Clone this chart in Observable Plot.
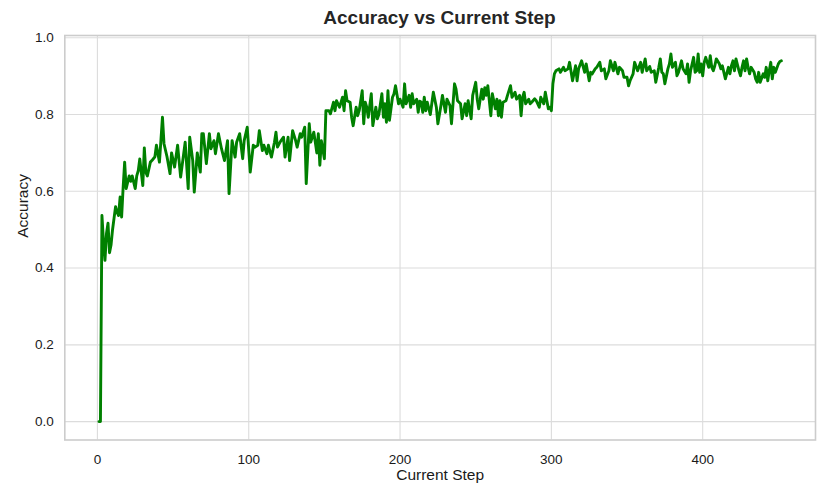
<!DOCTYPE html>
<html>
<head>
<meta charset="utf-8">
<script src="https://cdn.jsdelivr.net/npm/d3@7"></script>
<script src="https://cdn.jsdelivr.net/npm/@observablehq/plot@0.6"></script>
<style>
  html, body { margin: 0; padding: 0; background: #fff; }
  #wrap { width: 830px; height: 498px; position: relative; font-family: "Liberation Sans", Arial, sans-serif; }
  #title { height: 30px; box-sizing: border-box; padding-top: 6px; line-height: 24px; font-size: 19px; font-weight: bold; color: #262626; text-align: center; padding-left: 49px; }
</style>
</head>
<body>
<div id="wrap">
  <div id="title">Accuracy vs Current Step</div>
  <div id="chart"></div>
</div>
<script>
const title = "Accuracy vs Current Step";
const xLabel = "Current Step";
const yLabel = "Accuracy";
const xTicks = [0, 100, 200, 300, 400];
const yTicks = [0, 0.2, 0.4, 0.6, 0.8, 1.0];

const steps = [
  1,2,3,4,5,6,7,8,9,10,11,12,13,14,15,16,17,18,19,21,22,23,25,26,27,28,30,31,32,33,35,36,38,39,41,43,44,46,48,49,
  51,53,55,58,60,61,63,64,66,68,69,70,72,74,75,77,78,80,82,84,86,87,89,91,92,94,96,97,99,101,103,104,106,107,109,110,
  112,113,115,117,118,119,121,123,124,126,127,129,131,132,134,135,137,138,140,141,143,144,145,146,147,148,150,151,153,
  154,156,157,158,160,162,163,164,165,167,168,169,171,172,173,175,176,177,178,179,181,182,184,185,186,188,189,190,191,
  192,193,195,196,197,199,200,202,203,204,206,207,208,209,211,212,213,214,215,216,217,218,220,222,224,225,227,228,230,
  231,233,234,236,237,238,240,241,243,244,245,247,248,250,251,252,254,255,256,257,258,260,261,263,264,265,266,267,268,
  270,271,273,274,276,277,279,280,281,282,283,285,286,287,289,290,292,293,295,296,298,299,300,301,302,303,305,306,308,
  309,311,312,314,316,317,318,320,322,323,325,326,327,329,330,332,333,335,336,338,339,341,342,344,345,347,348,350,351,
  352,354,355,357,359,360,362,363,365,366,368,369,371,372,373,374,375,377,378,379,380,382,383,384,386,387,389,390,391,
  392,394,395,396,397,398,399,400,401,402,404,405,406,407,408,409,411,412,413,414,415,417,418,419,420,421,422,424,425,
  426,427,428,429,430,431,432,434,435,436,437,438,440,441,442,443,444,445,446,447,448,450,451,452
];

const accuracy = [
  0,0,0.537,0.47,0.42,0.49,0.517,0.44,0.46,0.50,0.53,0.56,0.545,0.537,0.585,0.533,0.61,0.676,0.607,0.64,0.626,0.64,0.607,0.64,0.654,0.684,0.615,0.713,0.65,0.64,0.676,0.68,0.69,0.72,0.676,0.793,0.724,0.69,0.646,0.70,
  0.663,0.72,0.637,0.728,0.607,0.741,0.68,0.598,0.70,0.65,0.75,0.75,0.672,0.75,0.711,0.732,0.698,0.75,0.711,0.68,0.732,0.594,0.732,0.689,0.728,0.75,0.685,0.732,0.767,0.65,0.72,0.715,0.72,0.758,0.706,0.72,
  0.698,0.72,0.689,0.728,0.754,0.715,0.73,0.741,0.689,0.741,0.68,0.758,0.732,0.715,0.75,0.741,0.767,0.62,0.776,0.728,0.754,0.728,0.70,0.75,0.668,0.732,0.685,0.81,0.81,
  0.802,0.832,0.81,0.836,0.819,0.845,0.81,0.862,0.836,0.832,0.793,0.771,0.819,0.797,0.81,0.862,0.776,0.832,0.819,0.793,0.854,0.771,0.819,0.789,0.80,0.854,0.793,0.828,0.78,
  0.862,0.785,0.845,0.854,0.875,0.828,0.84,0.819,0.88,0.828,0.85,0.819,0.854,0.828,0.84,0.806,0.835,0.832,0.806,0.845,0.81,0.832,0.80,0.858,0.819,0.776,0.823,0.85,0.806,
  0.84,0.823,0.776,0.88,0.866,0.836,0.828,0.789,0.828,0.797,0.836,0.789,0.85,0.884,0.84,0.815,0.866,0.84,0.87,0.85,0.875,0.797,0.854,0.815,0.84,0.797,0.836,0.793,0.832,
  0.836,0.85,0.875,0.845,0.858,0.84,0.85,0.797,0.845,0.858,0.828,0.84,0.828,0.832,0.841,0.836,0.819,0.845,0.828,0.858,0.815,0.819,0.81,0.88,0.906,0.914,0.919,0.91,0.923,
  0.914,0.919,0.936,0.888,0.927,0.888,0.919,0.94,0.91,0.932,0.888,0.91,0.906,0.919,0.923,0.936,0.914,0.919,0.893,0.914,0.94,0.914,0.936,0.906,0.923,0.914,0.897,0.897,0.875,
  0.888,0.906,0.936,0.914,0.936,0.91,0.945,0.914,0.925,0.91,0.914,0.884,0.923,0.945,0.91,0.906,0.88,0.919,0.932,0.958,0.923,0.936,0.901,0.91,0.94,0.919,0.906,0.932,0.884,
  0.914,0.949,0.91,0.914,0.958,0.91,0.932,0.901,0.936,0.949,0.923,0.953,0.923,0.914,0.927,0.945,0.932,0.919,0.927,0.91,0.893,0.923,0.906,0.927,0.94,0.914,0.945,0.914,0.901,
  0.923,0.94,0.914,0.945,0.923,0.906,0.923,0.91,0.893,0.884,0.91,0.884,0.906,0.897,0.923,0.888,0.914,0.936,0.893,0.923,0.91,0.932,0.938,0.94
];

const data = steps.map((s, i) => ({step: s, accuracy: accuracy[i]}));

const font = '"Liberation Sans", Arial, sans-serif';
const xMin = d3.min(steps), xMax = d3.max(steps);
const xPad = (xMax - xMin) * 0.05;
const yMin = d3.min(accuracy), yMax = d3.max(accuracy);
const yPad = (yMax - yMin) * 0.05;

const chart = Plot.plot({
  width: 830,
  height: 468,
  marginTop: 5,
  marginBottom: 58.5,
  marginLeft: 64.3,
  marginRight: 15,
  style: {fontFamily: font, fontSize: "13px", color: "#1a1a1a", background: "white"},
  x: {domain: [xMin - xPad, xMax + xPad]},
  y: {domain: [yMin - yPad, yMax + yPad]},
  marks: [
    Plot.gridX(xTicks, {stroke: "#dcdcdc", strokeOpacity: 1, strokeWidth: 1.1}),
    Plot.gridY(yTicks, {stroke: "#dcdcdc", strokeOpacity: 1, strokeWidth: 1.1}),
    Plot.frame({stroke: "#cccccc", strokeWidth: 1.6}),
    Plot.axisX(xTicks, {tickSize: 0, tickPadding: 14, label: null, fontSize: 13.5}),
    Plot.axisY(yTicks, {tickSize: 0, tickPadding: 11, label: null, tickFormat: d3.format(".1f"), fontSize: 13.5}),
    Plot.line(data, {x: "step", y: "accuracy", stroke: "#008000", strokeWidth: 2.9, strokeLinejoin: "round", strokeLinecap: "round"}),
    Plot.text([xLabel], {frameAnchor: "bottom", dy: 35, text: d => d, fontSize: 15.5, fill: "#1a1a1a", lineAnchor: "middle"}),
    Plot.text([yLabel], {frameAnchor: "left", dx: -42, rotate: -90, text: d => d, fontSize: 15.5, fill: "#1a1a1a", lineAnchor: "middle"})
  ]
});
document.getElementById("chart").appendChild(chart);
</script>
</body>
</html>
